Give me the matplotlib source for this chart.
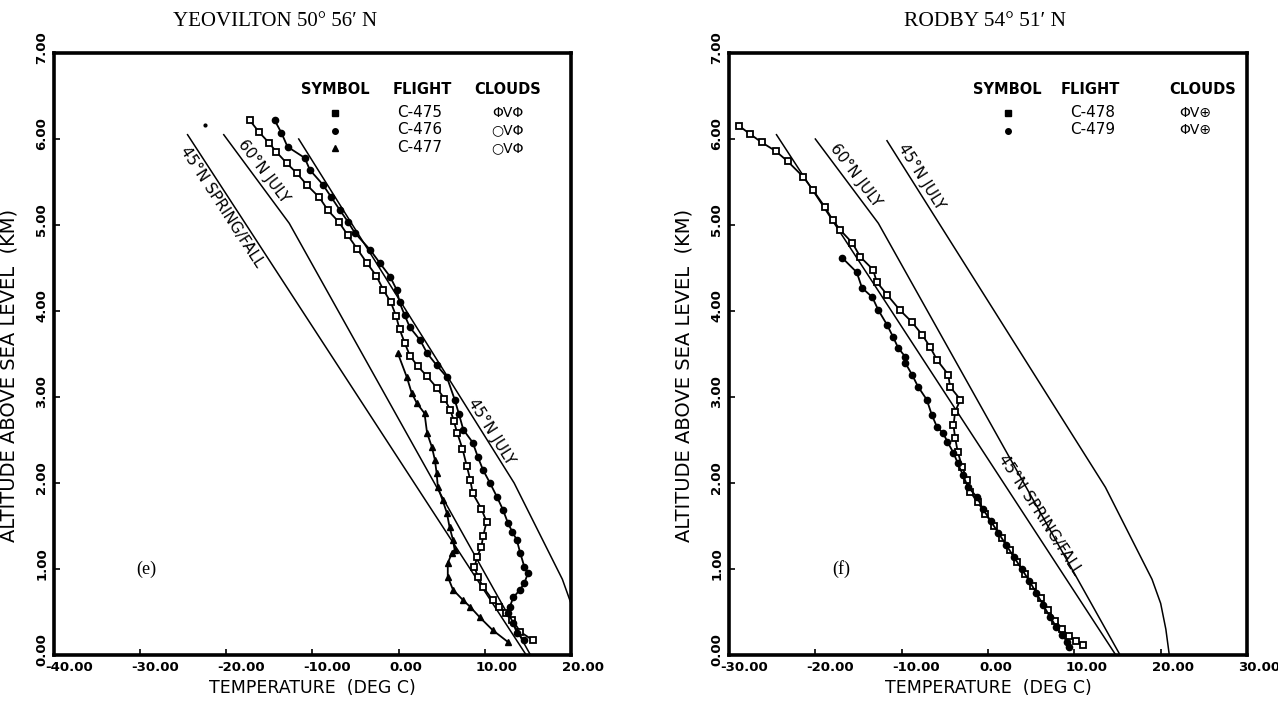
import matplotlib.pyplot as plt
from matplotlib.transforms import ScaledTranslation

# ---------------- YEOVILTON (left panel) ----------------
yeo_c475_t = [-17.3, -16.2, -15.0, -14.2, -13.0, -11.8, -10.6, -9.2, -8.2, -6.9, -5.9, -4.8,
              -3.7, -2.6, -1.8, -0.9, -0.3, 0.1, 0.7, 1.3, 2.2, 3.3, 4.4, 5.3, 6.0, 6.4, 6.8,
              7.4, 7.9, 8.3, 8.6, 9.6, 10.2, 9.8, 9.6, 9.1, 8.8, 9.2, 9.8, 10.9, 11.7, 12.5,
              13.2, 14.1, 15.6]
yeo_c475_z = [6.22, 6.08, 5.95, 5.85, 5.72, 5.60, 5.46, 5.32, 5.17, 5.03, 4.88, 4.72,
              4.56, 4.41, 4.25, 4.10, 3.94, 3.79, 3.63, 3.48, 3.36, 3.24, 3.11, 2.98, 2.85, 2.72, 2.58,
              2.40, 2.20, 2.04, 1.88, 1.70, 1.55, 1.38, 1.26, 1.14, 1.02, 0.91, 0.79, 0.64, 0.56, 0.49,
              0.41, 0.27, 0.17]

yeo_c476_t = [-14.4, -13.6, -12.9, -10.9, -10.3, -8.8, -7.8, -6.8, -5.9, -5.1, -3.3, -2.2,
              -1.0, -0.2, 0.1, 0.7, 1.3, 2.5, 3.3, 4.4, 5.6, 6.5, 7.0, 7.5, 8.6, 9.2, 9.8,
              10.6, 11.4, 12.1, 12.7, 13.2, 13.7, 14.1, 14.6, 15.0, 14.6, 14.1, 13.3, 12.9,
              12.7, 13.3, 13.7, 14.6]
yeo_c476_z = [6.22, 6.07, 5.91, 5.78, 5.64, 5.47, 5.32, 5.17, 5.04, 4.91, 4.71, 4.56,
              4.40, 4.24, 4.10, 3.95, 3.81, 3.66, 3.51, 3.37, 3.23, 2.97, 2.80, 2.62, 2.47, 2.30, 2.15,
              2.00, 1.84, 1.69, 1.53, 1.43, 1.34, 1.19, 1.02, 0.95, 0.84, 0.76, 0.67, 0.56,
              0.49, 0.37, 0.26, 0.17]

yeo_c477_t = [-0.1, 0.95, 1.5, 2.1, 3.0, 3.3, 3.85, 4.2, 4.4, 4.55, 5.1, 5.6, 5.9, 6.3, 6.5,
              6.2, 5.7, 5.7, 6.3, 7.45, 8.3, 9.4, 10.9, 12.7]
yeo_c477_z = [3.51, 3.23, 3.05, 2.93, 2.81, 2.58, 2.42, 2.27, 2.12, 1.95, 1.80, 1.65, 1.49, 1.34, 1.22,
              1.19, 1.07, 0.91, 0.76, 0.64, 0.56, 0.44, 0.29, 0.15]

# stray plotter mark near the top of the left panel
yeo_stray_t = [-22.5]
yeo_stray_z = [6.16]

yeo_45sf_t = [14.8, -24.5]
yeo_45sf_z = [0.0, 6.05]
yeo_60jul_t = [15.3, -12.7, -20.3]
yeo_60jul_z = [0.0, 5.02, 6.05]
yeo_45jul_t = [21.0, 20.6, 20.0, 19.0, 13.4, -11.6]
yeo_45jul_z = [0.0, 0.3, 0.6, 0.88, 2.0, 6.0]

# ---------------- RODBY (right panel) ----------------
rod_c478_t = [-28.8, -27.6, -26.2, -24.6, -23.2, -21.4, -20.3, -18.9, -18.0, -17.1, -15.7, -14.8,
              -13.3, -12.9, -11.7, -10.2, -8.8, -7.6, -6.7, -5.9, -4.6, -4.4, -3.2, -3.8, -4.0,
              -3.8, -3.5, -3.0, -2.4, -2.1, -1.2, -0.3, 0.7, 1.6, 2.5, 3.4, 4.3, 5.2, 6.1, 7.0,
              7.8, 8.6, 9.4, 10.2, 11.0]
rod_c478_z = [6.15, 6.06, 5.96, 5.86, 5.74, 5.56, 5.41, 5.21, 5.06, 4.94, 4.79, 4.63,
              4.48, 4.34, 4.19, 4.01, 3.87, 3.72, 3.58, 3.43, 3.26, 3.12, 2.97, 2.83, 2.67,
              2.52, 2.36, 2.19, 2.03, 1.90, 1.78, 1.64, 1.50, 1.36, 1.22, 1.08, 0.94, 0.80, 0.66, 0.52,
              0.40, 0.30, 0.22, 0.16, 0.12]

rod_c479_t = [-16.9, -15.2, -14.6, -13.4, -12.7, -11.7, -11.0, -10.4, -9.6, -9.6, -8.8, -8.1,
              -7.1, -6.5, -5.9, -5.2, -4.7, -4.0, -3.5, -2.9, -2.3, -1.3, -0.6, 0.3, 1.2, 2.1,
              3.0, 3.9, 4.8, 5.6, 6.4, 7.2, 7.9, 8.6, 9.2, 9.4]
rod_c479_z = [4.62, 4.45, 4.27, 4.16, 4.01, 3.84, 3.70, 3.57, 3.47, 3.40, 3.26, 3.12,
              2.97, 2.79, 2.65, 2.58, 2.48, 2.35, 2.23, 2.09, 1.95, 1.84, 1.70, 1.56, 1.42, 1.28,
              1.14, 1.00, 0.86, 0.72, 0.58, 0.44, 0.33, 0.23, 0.15, 0.09]

rod_45sf_t = [14.8, -24.5]
rod_45sf_z = [0.0, 6.05]
rod_60jul_t = [15.3, -12.7, -20.0]
rod_60jul_z = [0.0, 5.02, 6.0]
rod_45jul_t = [21.0, 20.6, 20.0, 19.0, 13.6, -11.7]
rod_45jul_z = [0.0, 0.3, 0.6, 0.88, 1.95, 5.98]

yeo_flights = ["C-475", "C-476", "C-477"]
yeo_clouds = ["\u03a6V\u03a6", "\u25cbV\u03a6", "\u25cbV\u03a6"]
rod_flights = ["C-478", "C-479"]
rod_clouds = ["\u03a6V\u2295", "\u03a6V\u2295"]

plot_font = ['Liberation Sans Narrow', 'DejaVu Sans']

fig = plt.figure(figsize=(12.78, 7.01), dpi=100)
ax1 = fig.add_axes([54 / 1278, 46 / 701, 517 / 1278, 602 / 701])
ax2 = fig.add_axes([729 / 1278, 46 / 701, 518 / 1278, 602 / 701])


def style_axes(ax, xmin, xmax):
    ax.set_xlim(xmin, xmax)
    ax.set_ylim(0, 7)
    ax.set_xticks(range(xmin, xmax + 1, 10))
    ax.set_yticks(range(0, 8))
    ax.set_xticklabels(["%.2f" % v for v in range(xmin, xmax + 1, 10)],
                       family=plot_font, fontsize=9.5, fontweight='bold')
    ax.set_yticklabels(["%.2f" % v for v in range(0, 8)], rotation=90, va='center',
                       family=plot_font, fontsize=9.5, fontweight='bold')
    ax.tick_params(direction='in', length=4, width=1.2, pad=4)
    # plotter labels start a little left of the tick
    shift_x = ScaledTranslation(-9 / 100, 0, fig.dpi_scale_trans)
    for lbl in ax.get_xticklabels():
        lbl.set_ha('left')
        lbl.set_transform(lbl.get_transform() + shift_x)
    shift_y = ScaledTranslation(0, 5 / 100, fig.dpi_scale_trans)
    for lbl in ax.get_yticklabels():
        lbl.set_transform(lbl.get_transform() + shift_y)
    for s in ax.spines.values():
        s.set_linewidth(2.6)
    ax.set_xlabel("TEMPERATURE  (DEG C)", family=plot_font, fontsize=12.5, labelpad=4)
    ax.set_ylabel("ALTITUDE ABOVE SEA LEVEL  (KM)", family=plot_font, fontsize=14)
    ax.yaxis.set_label_coords(-0.068, 0.465)


def draw_series(ax, t, z, marker):
    if marker == 's':
        ax.plot(t, z, color='black', lw=1.3, marker='s', ms=4, mfc='white', mec='black', mew=1.3)
    else:
        ax.plot(t, z, color='black', lw=1.3, marker=marker, ms=4.5, mfc='black', mec='black')


def legend(ax, flights, markers, clouds, xs):
    xsym, xfl, xhead, xcl, xclh, y0 = xs
    kw = dict(transform=ax.transAxes, family=plot_font, fontsize=10.5, fontweight='bold', ha='center')
    ax.text(xsym, y0, "SYMBOL", **kw)
    ax.text(xhead, y0, "FLIGHT", **kw)
    ax.text(xclh, y0, "CLOUDS", **kw)
    for i, (f, m, c) in enumerate(zip(flights, markers, clouds)):
        yy = y0 - 0.038 - 0.029 * i
        ax.plot([xsym], [yy + 0.006], marker=m, ms=4, color='black', mfc='black',
                transform=ax.transAxes, clip_on=False)
        ax.text(xfl, yy, f, transform=ax.transAxes, family=plot_font, fontsize=11)
        ax.text(xcl, yy, c, transform=ax.transAxes, family='DejaVu Sans', fontsize=10, ha='center')


# left
style_axes(ax1, -40, 20)
ax1.plot(yeo_45sf_t, yeo_45sf_z, color='black', lw=1.1)
ax1.plot(yeo_60jul_t, yeo_60jul_z, color='black', lw=1.1)
ax1.plot(yeo_45jul_t, yeo_45jul_z, color='black', lw=1.1)
draw_series(ax1, yeo_c475_t, yeo_c475_z, 's')
draw_series(ax1, yeo_c476_t, yeo_c476_z, 'o')
draw_series(ax1, yeo_c477_t, yeo_c477_z, '^')
ax1.plot(yeo_stray_t, yeo_stray_z, 'o', color='black', ms=2)
lab = dict(family=plot_font, fontsize=11, ha='center', va='center', rotation_mode='anchor')
ax1.text(-20.5, 5.21, "45\u00b0N SPRING/FALL", rotation=-57, **lab)
ax1.text(-15.7, 5.62, "60\u00b0N JULY", rotation=-53, **lab)
ax1.text(10.7, 2.60, "45\u00b0N JULY", rotation=-58, **lab)
ax1.text(0.16, 0.135, "(e)", transform=ax1.transAxes, family='Liberation Serif', fontsize=13)
legend(ax1, yeo_flights, ['s', 'o', '^'], yeo_clouds, (0.544, 0.663, 0.712, 0.878, 0.878, 0.932))

# right
style_axes(ax2, -30, 30)
ax2.plot(rod_45sf_t, rod_45sf_z, color='black', lw=1.1)
ax2.plot(rod_60jul_t, rod_60jul_z, color='black', lw=1.1)
ax2.plot(rod_45jul_t, rod_45jul_z, color='black', lw=1.1)
draw_series(ax2, rod_c478_t, rod_c478_z, 's')
draw_series(ax2, rod_c479_t, rod_c479_z, 'o')
ax2.text(-15.4, 5.58, "60\u00b0N JULY", rotation=-53, **lab)
ax2.text(-7.75, 5.56, "45\u00b0N JULY", rotation=-58, **lab)
ax2.text(6.0, 1.63, "45\u00b0N SPRING/FALL", rotation=-57, **lab)
ax2.text(0.2, 0.135, "(f)", transform=ax2.transAxes, family='Liberation Serif', fontsize=13)
legend(ax2, rod_flights, ['s', 'o'], rod_clouds, (0.538, 0.658, 0.697, 0.90, 0.915, 0.932))

fig.text(275 / 1278, 1 - 22 / 701, "YEOVILTON 50\u00b0 56\u2032 N", family='Liberation Serif',
         fontsize=15, ha='center', va='center')
fig.text(985 / 1278, 1 - 22 / 701, "RODBY 54\u00b0 51\u2032 N", family='Liberation Serif',
         fontsize=15.5, ha='center', va='center')

fig.savefig("out.png", dpi=100)
